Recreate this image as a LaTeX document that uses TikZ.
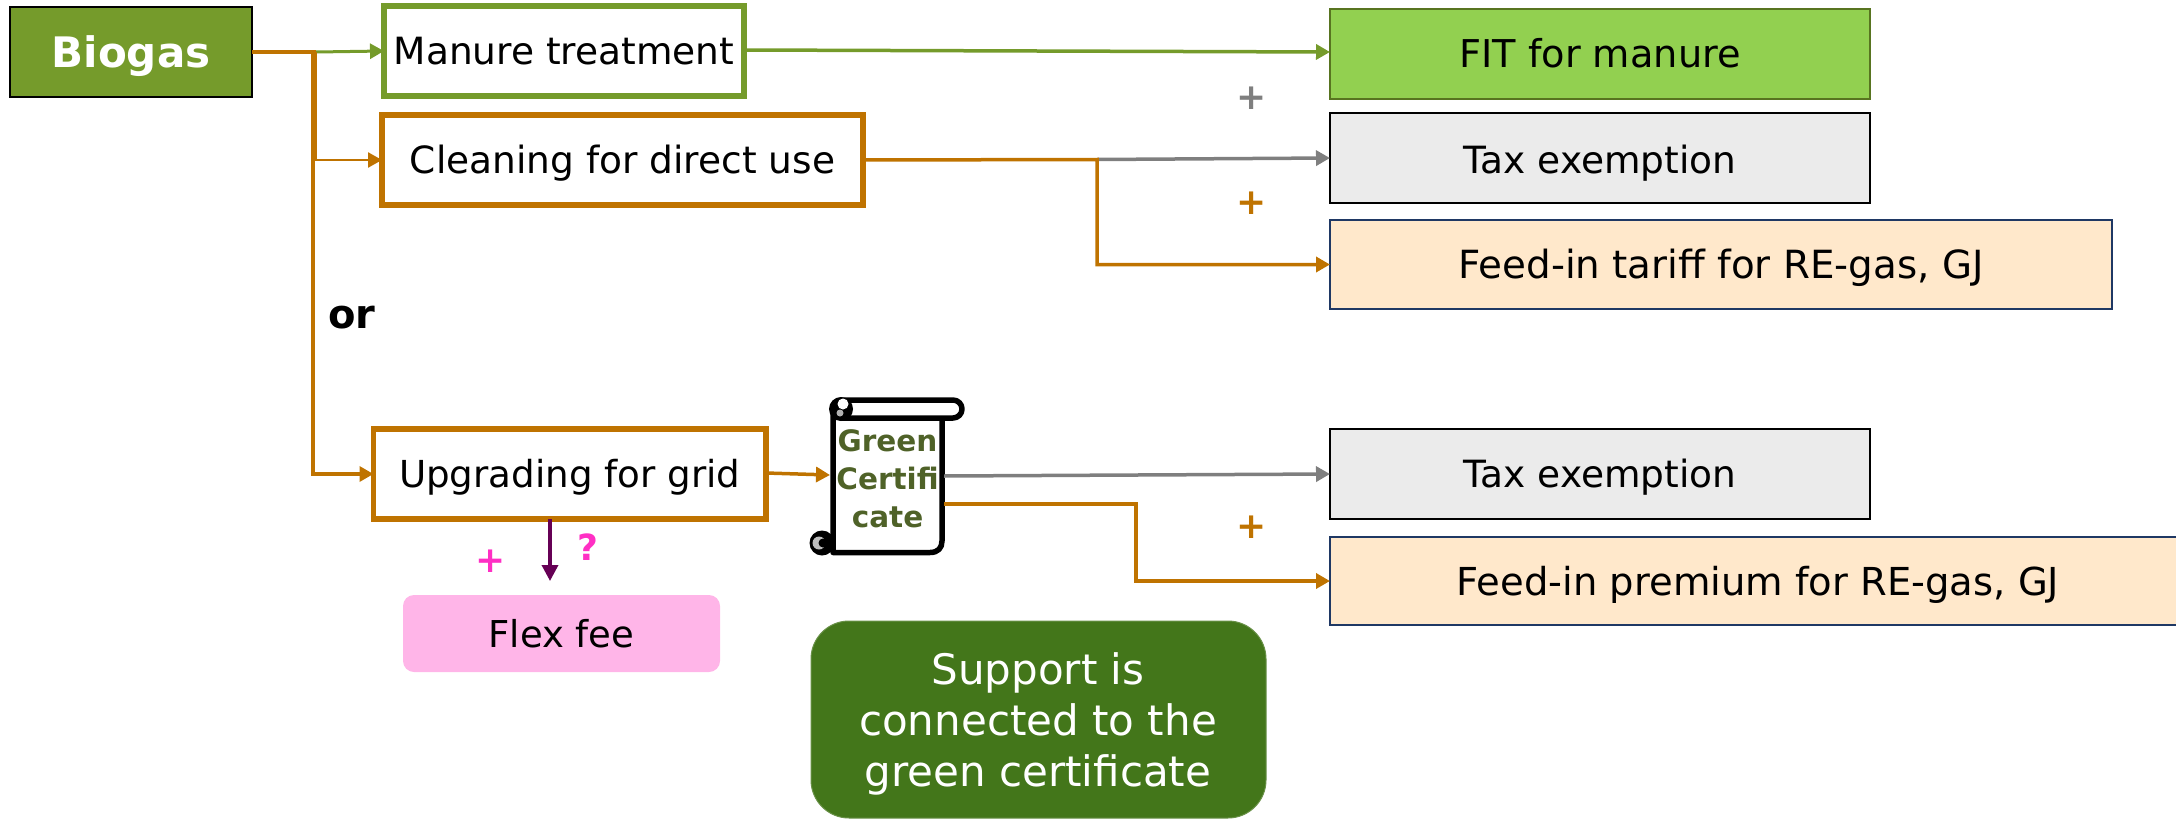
\documentclass[tikz,border=0pt]{standalone}
\usepackage{fontspec}
\setmainfont{DejaVu Sans}
\usetikzlibrary{arrows.meta,calc}
\definecolor{cgreen}{HTML}{759B2B}
\definecolor{corange}{HTML}{BF7300}
\definecolor{cgray}{HTML}{7F7F7F}
\definecolor{cfit}{HTML}{92D050}
\definecolor{cgfill}{HTML}{EBEBEB}
\definecolor{cpeach}{HTML}{FFE8CB}
\definecolor{cnavy}{HTML}{1F3864}
\definecolor{cpink}{HTML}{FFB5E8}
\definecolor{cdark}{HTML}{43761A}
\definecolor{chot}{HTML}{FF2FC4}
\definecolor{cpurple}{HTML}{660055}
\definecolor{ctext}{HTML}{4F6228}
\newcommand{\capc}[2]{\fontsize{#1}{#1}\selectfont\raisebox{0pt}[0.73em][0pt]{#2}}
\tikzset{
  x=1pt,y=-1pt,
  box/.style={rectangle,inner sep=0pt,outer sep=0pt,align=center,text=black},
  pbox/.style={box,draw=#1,line width=5.5pt,fill=white},
  rbox/.style={box,line width=1.6pt},
  tip/.style={-{Triangle[length=14pt,width=15pt]}},
  conn/.style={line width=#1,tip},
  conn/.default=3.5pt,
  elbow/.style={line width=#1,line join=miter,tip},
  elbow/.default=3.5pt,
  plus/.style={inner sep=0pt,font=\bfseries\fontsize{36}{40}\selectfont},
}
\newcommand{\boxat}[6]{% name, x0, y0, x1, y1, style; text follows
  \node[#6,minimum width=#4-#2,minimum height=#5-#3] (#1) at ({(#2+#4)/2},{(#3+#5)/2})}
\begin{document}
\begin{tikzpicture}
\useasboundingbox (0,0) rectangle (2176,819);
% sources
\boxat{biogas}{10}{7}{252}{97}{box,draw=black,fill=cgreen,line width=2pt,text=white,font=\bfseries} {\capc{42}{Biogas}};
\boxat{manure}{384}{6}{744}{96}{pbox=cgreen} {\capc{37.5}{Manure treatment}};
\boxat{clean}{382}{115}{863}{205}{pbox=corange} {\capc{37.5}{Cleaning for direct use}};
\boxat{upg}{373.5}{429}{766}{519}{pbox=corange} {\capc{37.2}{Upgrading for grid}};
\boxat{flex}{403}{595}{720}{672}{box,fill=cpink,rounded corners=11pt} {\capc{37}{Flex fee}};
% targets
\boxat{fit}{1330}{9}{1870}{99}{rbox,draw=cgreen!75!black,fill=cfit} {\capc{38.3}{FIT for manure}};
\boxat{tax}{1330}{113}{1870}{203}{rbox,draw=black,fill=cgfill} {\capc{37.5}{\raisebox{-2pt}{Tax exemption}}};
\boxat{tariff}{1330}{220}{2112}{309}{rbox,draw=cnavy,fill=cpeach} {\capc{38.8}{Feed-in tariff for RE-gas, GJ}};
\boxat{taxb}{1330}{429}{1870}{519}{rbox,draw=black,fill=cgfill} {\capc{37.5}{Tax exemption}};
\boxat{prem}{1330}{537}{2176}{625}{box,fill=cpeach} {\capc{38.5}{\hspace*{10pt}Feed-in premium for RE-gas, GJ}};
\draw[line width=1.6pt,cnavy] (prem.north east) -- (prem.north west) -- (prem.south west) -- (prem.south east);
% support box
\boxat{support}{811}{621}{1266}{818}{box,fill=cdark,draw=cdark!80!white,line width=1pt,rounded corners=38pt} {};
\node[box,text=white,font=\fontsize{42}{51}\selectfont] (supporttext) at (1038,724) {Support is\\connected to the\\green certificate};
% scroll
\draw[line width=5.5pt,line join=round,fill=white]
  (833,408) -- (833,552.5) -- (930,552.5)
  .. controls (938,552.5) and (942,548) .. (942,541) -- (942,410) -- cycle;
\draw[line width=5.5pt,line join=round,fill=white,rounded corners=9pt]
  (833,400) rectangle (962,418);
\fill[black] (841,409) circle[radius=12];
\fill[white] (843,404) circle[radius=5.5];
\fill[cgray!60] (840,413) circle[radius=3.5];
\fill[black] (822,543) circle[radius=12.5];
\fill[cgray!50] (819,543) circle[radius=6.5];
\fill[black] (823,543) circle[radius=4.5];
\node[box,minimum width=109pt,font=\bfseries\fontsize{29.5}{38}\selectfont,text=ctext] (cert) at (887.5,479) {Green\\Certifi\\cate};
\coordinate (sb) at (830,475);
\coordinate (st) at (944,476);
\coordinate (so) at (944,504);
% connectors
\coordinate (j0) at (313,52);
\coordinate (j1) at (316,52);
\draw[cgreen,conn=3pt] (j1) -- (manure.west);
\draw[line width=4pt,corange] (biogas.east|-j0) -- (j1);
\draw[corange,elbow=2.5pt] (j1) -- (j1|-clean.west) -- (clean.west);
\draw[corange,elbow=3.4pt] (j0) -- (j0|-upg.west) -- (upg.west);
\coordinate (m0) at (744,50);
\coordinate (m1) at (1330,52);
\draw[conn,cgreen] (m0) -- (m1);
\coordinate (c0) at (863,160);
\coordinate (c1) at (1097,159.5);
\coordinate (c2) at (1330,158);
\draw[conn,cgray] (c1) -- (c2);
\draw[corange,elbow] (c0) -- (c1) -- (c1|-tariff.west) -- (tariff.west);
\coordinate (u0) at (766,473);
\draw[conn,corange] (u0) -- (sb);
\coordinate (t1) at (1330,474);
\draw[conn,cgray] (st) -- (t1);
\coordinate (k1) at (1136,504);
\draw[corange,elbow] (so) -- (k1) -- (k1|-prem.west) -- (prem.west);
\coordinate (f0) at (550,519);
\coordinate (f1) at (550,581);
\draw[line width=3.5pt,cpurple,-{Triangle[length=16pt,width=16pt]}] (f0) -- (f1);
% labels
\node[inner sep=0pt,font=\bfseries\fontsize{40}{44}\selectfont] (orl) at (352,318) {or};
\node[plus,text=chot] (p1) at (491,561) {+};
\node[plus,text=chot] (q1) at (588,547) {?};
\node[plus,text=cgray] (p2) at (1252,98) {+};
\node[plus,text=corange] (p3) at (1252,203) {+};
\node[plus,text=corange] (p4) at (1252,527) {+};
\end{tikzpicture}
\end{document}
